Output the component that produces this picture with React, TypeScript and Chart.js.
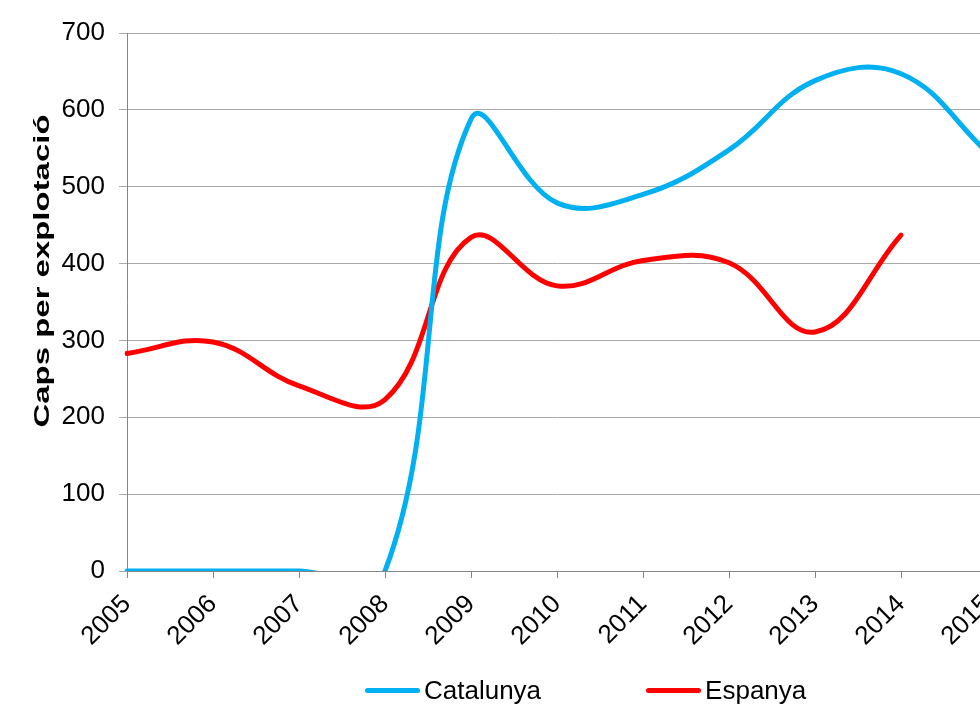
import React, { useEffect, useRef } from "react";
import { Chart, registerables } from "chart.js";

Chart.register(...registerables);

const years = ["2005", "2006", "2007", "2008", "2009", "2010", "2011", "2012", "2013", "2014", "2015"];
const catalunya = [0, 0, 0, 0, 588, 479, 490, 548, 638, 647, 545];
const espanya = [283, 298, 241, 223, 434, 371, 404, 401, 311, 437, null];
const seriesNames = ["Catalunya", "Espanya"];
const seriesColors = ["#00b0f0", "#ff0000"];
const yTitle = "Caps per explotació";
const yMin = 0;
const yMax = 700;
const yStep = 100;

const FONT = "'Liberation Sans', Arial, sans-serif";

const yTitlePlugin = {
  id: "yTitleStretched",
  afterDraw(chart: any) {
    const { ctx, chartArea } = chart;
    ctx.save();
    const cy = (chartArea.top + chartArea.bottom) / 2 - 31;
    ctx.translate(49, cy);
    ctx.rotate(-Math.PI / 2);
    ctx.font = `bold 22px ${FONT}`;
    const w = ctx.measureText(yTitle).width;
    const s = 313 / w;
    ctx.scale(s, 1);
    ctx.fillStyle = "#000";
    ctx.textAlign = "center";
    ctx.textBaseline = "alphabetic";
    ctx.fillText(yTitle, 0, 0);
    ctx.restore();
  },
};

export default function App() {
  const ref = useRef<HTMLCanvasElement>(null);

  useEffect(() => {
    if (!ref.current) return;
    const lineStyle = {
      borderWidth: 5,
      pointRadius: 0,
      tension: 0.4,
      capBezierPoints: false,
      borderCapStyle: "round" as const,
      borderJoinStyle: "round" as const,
      fill: false,
    };
    const chart = new Chart(ref.current, {
      type: "line",
      data: {
        labels: years,
        datasets: [
          {
            label: seriesNames[0],
            data: catalunya,
            borderColor: seriesColors[0],
            backgroundColor: seriesColors[0],
            ...lineStyle,
          },
          {
            label: seriesNames[1],
            data: espanya,
            borderColor: seriesColors[1],
            backgroundColor: seriesColors[1],
            ...lineStyle,
          },
        ],
      },
      options: {
        responsive: false,
        animation: false,
        devicePixelRatio: 1,
        elements: { line: { capBezierPoints: false } },
        layout: { padding: { left: 0, top: 33, right: 3, bottom: 0 } },
        plugins: {
          legend: { display: false },
          tooltip: { enabled: false },
        },
        scales: {
          x: {
            offset: false,
            grid: {
              display: true,
              drawOnChartArea: false,
              drawTicks: true,
              tickLength: 7,
              color: "#868686",
            },
            border: { display: true, color: "#868686", width: 1 },
            ticks: {
              color: "#000",
              font: { family: FONT, size: 26 },
              minRotation: 45,
              maxRotation: 45,
              autoSkip: false,
              padding: 11,
            },
            afterFit(scale: any) {
              scale.height = 134;
              scale.paddingLeft = 0;
              scale.paddingRight = 0;
            },
          },
          y: {
            min: yMin,
            max: yMax,
            grid: {
              color: "#aaaaaa",
              lineWidth: 1,
              drawTicks: true,
              tickLength: 8,
            },
            border: { display: true, color: "#868686", width: 1 },
            ticks: {
              stepSize: yStep,
              color: "#000",
              font: { family: FONT, size: 26 },
              padding: 14,
            },
            afterFit(scale: any) {
              scale.width = 127;
            },
          },
        },
      },
      plugins: [yTitlePlugin],
    });
    return () => chart.destroy();
  }, []);

  return (
    <div
      style={{
        position: "fixed",
        left: 0,
        top: 0,
        width: 980,
        height: 705,
        overflow: "hidden",
        background: "#fff",
      }}
    >
      <canvas ref={ref} width={990} height={705} style={{ display: "block", width: 990, height: 705 }} />
      <div
        style={{
          position: "absolute",
          left: 365,
          top: 675,
          display: "flex",
          alignItems: "center",
          fontFamily: FONT,
          fontSize: 26,
          lineHeight: "30px",
          color: "#000",
          whiteSpace: "nowrap",
        }}
      >
        {seriesNames.map((name, i) => (
          <div key={name} style={{ display: "flex", alignItems: "center", marginRight: i === 0 ? 105 : 0 }}>
            <span
              style={{
                display: "inline-block",
                width: 55,
                height: 5,
                borderRadius: 3,
                background: seriesColors[i],
                marginRight: 4,
              }}
            />
            <span>{name}</span>
          </div>
        ))}
      </div>
    </div>
  );
}
